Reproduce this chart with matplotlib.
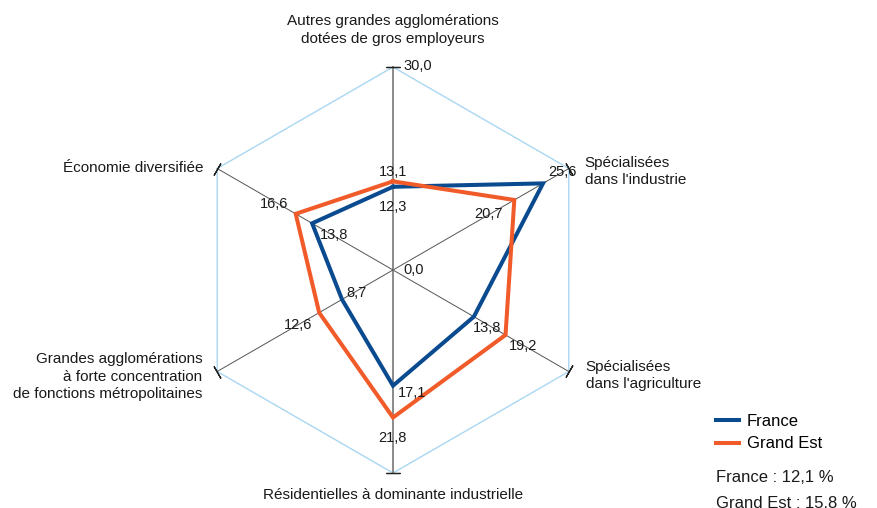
import numpy as np
import matplotlib.pyplot as plt
from matplotlib.lines import Line2D

plt.rcParams['font.family'] = ['Liberation Sans', 'DejaVu Sans']

# Données (en %)
categories = [
    "Autres grandes agglomérations\ndotées de gros employeurs",
    "Spécialisées\ndans l'industrie",
    "Spécialisées\ndans l'agriculture",
    "Résidentielles à dominante industrielle",
    "Grandes agglomérations\nà forte concentration\nde fonctions métropolitaines",
    "Économie diversifiée",
]
france = [12.3, 25.6, 13.8, 17.1, 8.7, 13.8]
grand_est = [13.1, 20.7, 19.2, 21.8, 12.6, 16.6]
r_max = 30.0
series_names = ["France", "Grand Est"]
totals = ["France : 12,1 %", "Grand Est : 15,8 %"]

blue = '#0a4a8f'
orange = '#f15a29'

W, H = 878, 508
cx, cy, R = 393, 270, 203
fig = plt.figure(figsize=(W / 100, H / 100), dpi=100)
ax = fig.add_axes([(cx - R) / W, (H - cy - R) / H, 2 * R / W, 2 * R / H], projection='polar')
ax.set_theta_zero_location('N')
ax.set_theta_direction(-1)
ax.set_ylim(0, r_max)
ax.set_axis_off()

theta = np.deg2rad(np.arange(len(categories)) * 60)
closed = np.append(theta, theta[0])

# grille hexagonale + rayons
ax.plot(closed, [r_max] * len(closed), color='#a9d6f2', lw=1, clip_on=False)
for i, t in enumerate(theta):
    vertical = i in (0, 3)
    ax.plot([t, t], [0, r_max], color='#8a8a8a' if vertical else '#555555',
            lw=1.4 if vertical else 0.7, clip_on=False)
    rot = 90 - np.rad2deg(t)
    ax.plot(t, r_max, marker=(2, 2, rot), ms=10, mew=0.9, color='#222222', clip_on=False)

# séries
ax.plot(closed, france + france[:1], color=blue, lw=2.9, solid_joinstyle='miter', zorder=3)
ax.plot(closed, grand_est + grand_est[:1], color=orange, lw=2.9, solid_joinstyle='miter', zorder=4)

fmt = lambda v: f"{v:.1f}".replace('.', ',')
france_off = [(0, -20), (19, 11), (13, -11), (19, -7), (14, 6), (22, -12)]
ge_off = [(0, 9), (-26, -14), (18, -11), (-1, -20), (-21, -12), (-22, 10)]
for vals, offs in ((france, france_off), (grand_est, ge_off)):
    for t, v, o in zip(theta, vals, offs):
        ax.annotate(fmt(v), (t, v), xytext=o, textcoords='offset pixels',
                    ha='center', va='center', fontsize=10.5, color='#1a1a1a', zorder=5)

ax.annotate(fmt(r_max), (0, r_max), xytext=(25, 1), textcoords='offset pixels',
            ha='center', va='center', fontsize=10.5, color='#1a1a1a', annotation_clip=False)
ax.annotate(fmt(0), (0, 0), xytext=(21, 0), textcoords='offset pixels',
            ha='center', va='center', fontsize=10.5, color='#1a1a1a')

# libellés des catégories
cat_off = [(0, 37, 'center'), (16, -3, 'left'), (17, -4, 'left'),
           (0, -22, 'center'), (-15, -5, 'right'), (-14, 0, 'right')]
for t, lab, (dx, dy, ha) in zip(theta, categories, cat_off):
    ax.annotate(lab, (t, r_max), xytext=(dx, dy), textcoords='offset pixels',
                ha=ha, va='center', multialignment=ha, fontsize=11, color='#1a1a1a',
                linespacing=1.35, annotation_clip=False)

# légende
handles = [Line2D([], [], color=blue, lw=2.9), Line2D([], [], color=orange, lw=2.9)]
fig.legend(handles, series_names, loc='upper left', bbox_to_anchor=(716 / W, 1 - 414 / H),
           frameon=False, fontsize=12, handlelength=1.4, handletextpad=0.45,
           labelspacing=0.45, borderpad=0, borderaxespad=0)
fig.text(716 / W, 1 - 478 / H, totals[0], fontsize=12, va='center', color='#1a1a1a')
fig.text(716 / W, 1 - 503 / H, totals[1], fontsize=12, va='center', color='#1a1a1a')

fig.savefig('out.png', dpi=100)
